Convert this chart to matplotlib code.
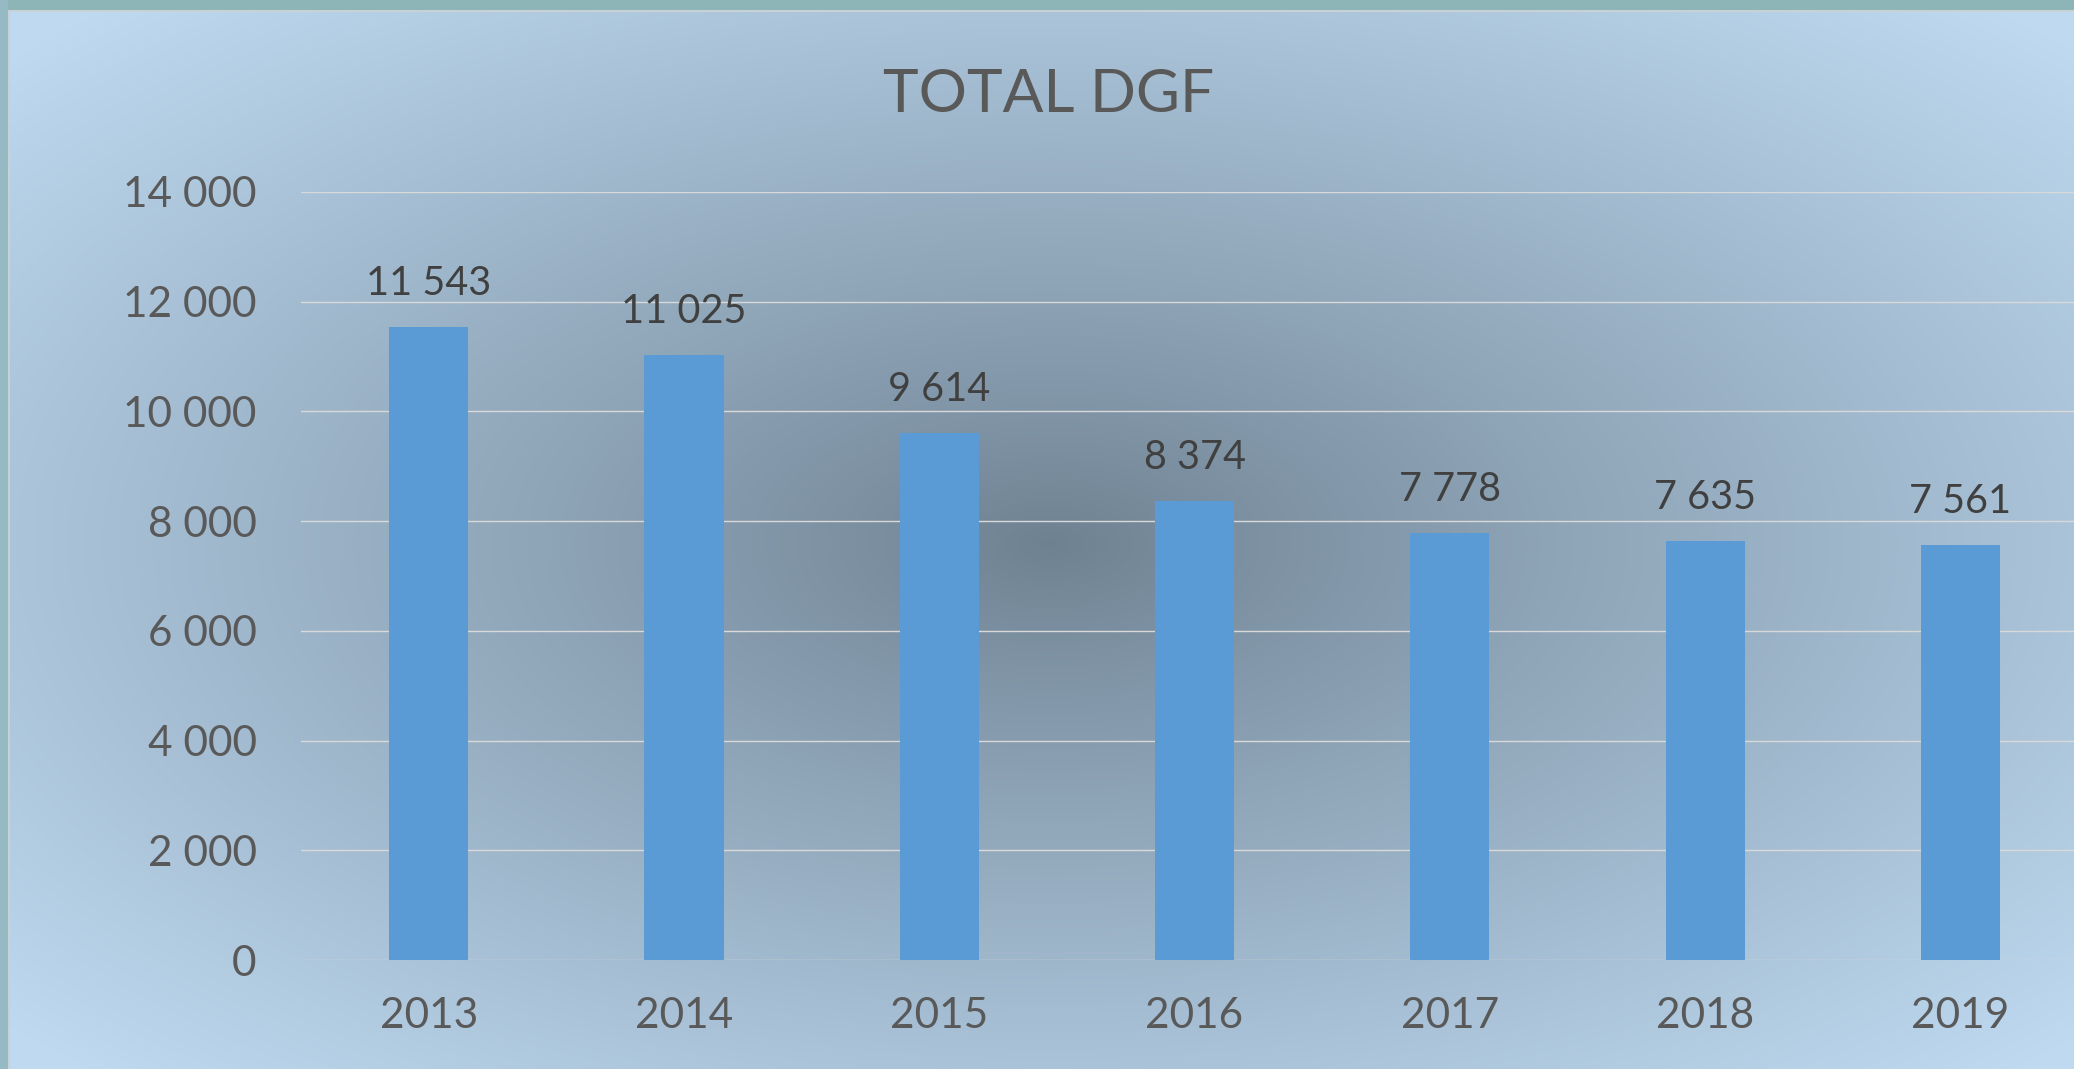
#!/usr/bin/env python3
import numpy as np
import matplotlib.pyplot as plt

years = ["2013", "2014", "2015", "2016", "2017", "2018", "2019"]
totals = [11543, 11025, 9614, 8374, 7778, 7635, 7561]
yticks = [0, 2000, 4000, 6000, 8000, 10000, 12000, 14000]

W, H = 2074, 1069
plt.rcParams["font.family"] = ["Lato", "DejaVu Sans"]

fig = plt.figure(figsize=(W / 100, H / 100), dpi=100)

# --- background: radial gradient, dark in the middle, light blue at the edges ---
bg = fig.add_axes([0, 0, 1, 1])
yy, xx = np.mgrid[0:H, 0:W]
dx = (xx - 1050) / (W / 2)
dy = (yy - 543) / (H / 2)
r = np.clip(np.sqrt(dx ** 2 + dy ** 2) / 1.35, 0, 1) ** 0.9
inner = np.array([110, 129, 145]) / 255
outer = np.array([190, 217, 240]) / 255
img = inner[None, None, :] * (1 - r[..., None]) + outer[None, None, :] * r[..., None]
# teal frame strip on top and left
img[:10, :, :] = np.array([141, 181, 184]) / 255
img[:, :8, :] = np.array([150, 186, 196]) / 255
img[10:12, 8:, :] = np.array([200, 210, 212]) / 255
img[10:, 8:10, :] = np.array([200, 210, 212]) / 255
bg.imshow(img, aspect="auto", interpolation="bilinear")
bg.axis("off")

# --- bar chart ---
ax = fig.add_axes([301 / W, 1 - 960 / H, 1 - 301 / W, 768 / H])
ax.patch.set_alpha(0)
x = np.arange(len(years))
ax.bar(x, totals, width=0.31, color="#5b9bd5", zorder=3)

for xi, v in zip(x, totals):
    ax.annotate(f"{v:,}".replace(",", " "), (xi, v), xytext=(0, 23),
                textcoords="offset points", ha="center", va="baseline",
                fontsize=28.5, color="#404040")

ax.set_xlim(-0.5, -0.5 + (W - 301) / 255.3)
ax.set_ylim(0, 14000)
ax.set_yticks(yticks)
ax.set_yticklabels([f"{t:,}".replace(",", " ") for t in yticks])
ax.set_xticks(x)
ax.set_xticklabels(years)
ax.tick_params(axis="y", length=0, pad=32, labelsize=30.5, labelcolor="#595959")
ax.tick_params(axis="x", length=0, pad=27, labelsize=30.5, labelcolor="#595959")
ax.grid(axis="y", color="#d9d9d9", linewidth=1.0, zorder=1)
ax.set_axisbelow(True)
for s in ax.spines.values():
    s.set_visible(False)

fig.text(1049 / W, 1 - 95 / H, "TOTAL DGF", ha="center", va="center",
         fontsize=43.5, color="#595959")

fig.savefig("out.png", dpi=100)
